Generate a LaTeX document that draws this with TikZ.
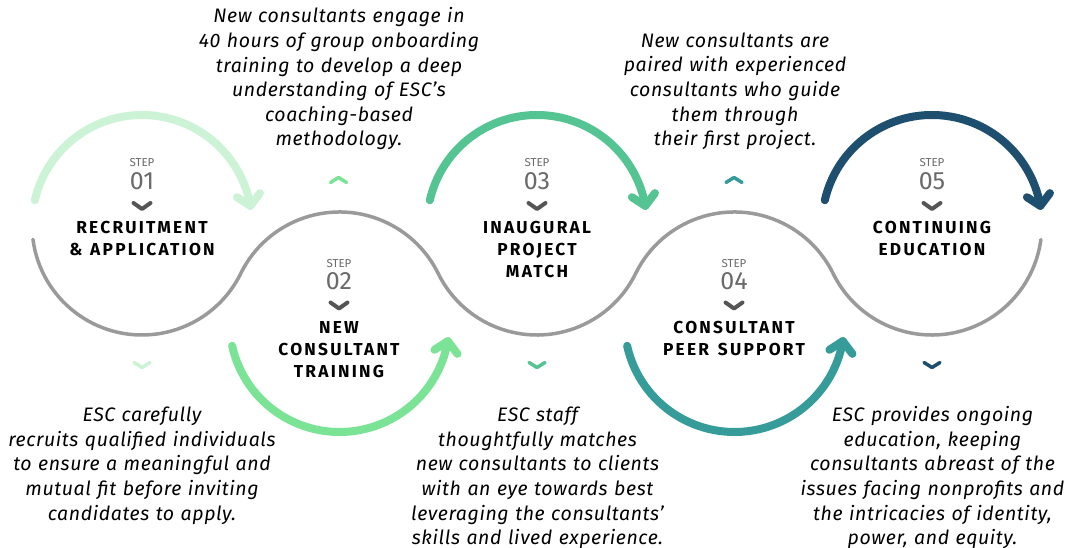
\documentclass[tikz,border=0pt]{standalone}
\usepackage{fontspec}
\setmainfont{Fira Sans}
\newfontfamily\titlefont[LetterSpace=13]{Fira Sans}
\newfontfamily\descfont[LetterSpace=3]{Fira Sans}
\definecolor{cA}{HTML}{CDF3D6}
\definecolor{cB}{HTML}{7BE395}
\definecolor{cC}{HTML}{55C493}
\definecolor{cD}{HTML}{359C9A}
\definecolor{cE}{HTML}{1F4F6F}
\definecolor{gline}{HTML}{9A9A9A}
\definecolor{chev}{HTML}{555555}
\definecolor{stepgray}{HTML}{6A6A6A}
\begin{document}
\begin{tikzpicture}[x=1pt,y=1pt,
  grayline/.style={draw=gline, line width=3.5pt, line cap=round},
  arcline/.style={line width=8pt, line cap=round, line join=round},
  smallchev/.style={line width=3.5pt, line cap=round, line join=round},
  desc/.style={font=\descfont\itshape\fontsize{19.5}{24.6}\selectfont, text width=340pt, align=center, anchor=base, inner sep=0pt},
  title/.style={font=\titlefont\bfseries\fontsize{17.3}{21.7}\selectfont, text width=200pt, align=center, anchor=base, inner sep=0pt},
  steplbl/.style={font=\fontsize{11.5}{12}\selectfont, text=stepgray, anchor=base, inner sep=0pt},
  numlbl/.style={font=\fontsize{25}{26}\selectfont, text=stepgray, anchor=base, inner sep=0pt}]
\useasboundingbox[fill=white] (0,0) rectangle (1067,548);
% circle centres
\coordinate (c1) at (142,323);
\coordinate (c2) at (339.5,226);
\coordinate (c3) at (537,323);
\coordinate (c4) at (734.5,226);
\coordinate (c5) at (932,323);
% grey wave
\draw[grayline] ([shift={(187.5:110pt)}]c1)
  arc[start angle=187.5, end angle=333.84, radius=110pt]
  arc[start angle=153.84, end angle=26.16, radius=110pt]
  arc[start angle=206.16, end angle=333.84, radius=110pt]
  arc[start angle=153.84, end angle=26.16, radius=110pt]
  arc[start angle=206.16, end angle=352.4, radius=110pt];
% coloured arcs with arrowheads
\foreach \c/\col in {c1/cA, c3/cC, c5/cE}{
  \draw[arcline, draw=\col] ([shift={(167:110pt)}]\c) arc[start angle=167, end angle=10, radius=110pt];
  \coordinate (tip) at ([shift={(10:110pt)}]\c);
  \draw[arcline, draw=\col] ([shift={(147:16pt)}]tip) -- (tip) -- ([shift={(53:16pt)}]tip);
}
\foreach \c/\col in {c2/cB, c4/cD}{
  \draw[arcline, draw=\col] ([shift={(192.5:110pt)}]\c) arc[start angle=192.5, end angle=350, radius=110pt];
  \coordinate (tip) at ([shift={(350:110pt)}]\c);
  \draw[arcline, draw=\col] ([shift={(213:16pt)}]tip) -- (tip) -- ([shift={(307:16pt)}]tip);
}
% small outer chevrons
\coordinate (o1) at (142,183);
\coordinate (o2) at (338.5,368);
\coordinate (o3) at (537,183);
\coordinate (o4) at (734,368);
\coordinate (o5) at (932,183);
\draw[smallchev, draw=cA] ([shift={(-8,2.5)}]o1) -- ([shift={(0,-2.5)}]o1) -- ([shift={(8,2.5)}]o1);
\draw[smallchev, draw=cB] ([shift={(-8,-2.5)}]o2) -- ([shift={(0,2.5)}]o2) -- ([shift={(8,-2.5)}]o2);
\draw[smallchev, draw=cC] ([shift={(-8,2.5)}]o3) -- ([shift={(0,-2.5)}]o3) -- ([shift={(8,2.5)}]o3);
\draw[smallchev, draw=cD] ([shift={(-8,-2.5)}]o4) -- ([shift={(0,2.5)}]o4) -- ([shift={(8,-2.5)}]o4);
\draw[smallchev, draw=cE] ([shift={(-8,2.5)}]o5) -- ([shift={(0,-2.5)}]o5) -- ([shift={(8,2.5)}]o5);
% inner dark chevrons
\foreach \x/\y in {142/342, 339/242.5, 537/342, 734/242.5, 932/342}{
  \draw[smallchev, line width=4pt, draw=chev] (\x-8.5,\y+3) -- (\x,\y-3) -- (\x+8.5,\y+3);
}
% step labels
\node[steplbl] (s1) at (142,381) {STEP};
\node[numlbl] (n1) at (142,358) {01};
\node[steplbl] (s2) at (339,280.5) {STEP};
\node[numlbl] (n2) at (339,258.5) {02};
\node[steplbl] (s3) at (537,381) {STEP};
\node[numlbl] (n3) at (537,358) {03};
\node[steplbl] (s4) at (734,280.5) {STEP};
\node[numlbl] (n4) at (734,258.5) {04};
\node[steplbl] (s5) at (932,381) {STEP};
\node[numlbl] (n5) at (932,358) {05};
% titles
\node[title] (t1) at (142,314) {RECRUITMENT\\\&\kern2pt\ APPLICATION};
\node[title] (t2) at (339,214) {NEW\\CONSULTANT\\TRAINING};
\node[title] (t3) at (537,314) {INAUGURAL\\PROJECT\\MATCH};
\node[title] (t4) at (734,214) {CONSULTANT\\PEER\kern3pt\ SUPPORT};
\node[title] (t5) at (932,314) {CONTINUING\\EDUCATION};
% descriptions
\node[desc] (d2) at (339,525) {New consultants engage in\\40 hours of group onboarding\\training to develop a deep\\understanding of ESC’s\\coaching-based\\methodology.};
\node[desc] (d4) at (735,500.7) {New consultants are\\paired with experienced\\consultants who guide\\them through\\their first project.};
\node[desc] (d1) at (142,126.3) {ESC carefully\\recruits qualified individuals\\to ensure a meaningful and\\mutual fit before inviting\\candidates to apply.};
\node[desc] (d3) at (537.5,126.3) {ESC staff\\thoughtfully matches\\new consultants to clients\\with an eye towards best\\leveraging the consultants’\\skills and lived experience.};
\node[desc] (d5) at (932.5,126.3) {ESC provides ongoing\\education, keeping\\consultants abreast of the\\issues facing nonprofits and\\the intricacies of identity,\\power, and equity.};
\end{tikzpicture}
\end{document}
